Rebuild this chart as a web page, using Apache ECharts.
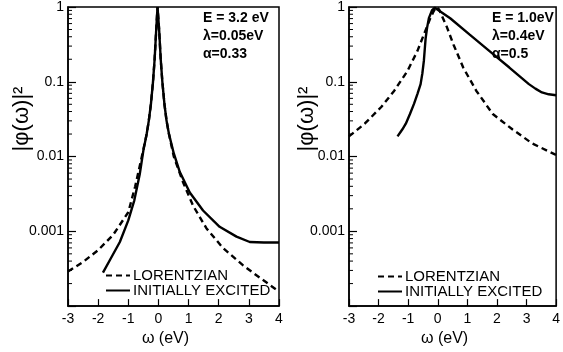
<!DOCTYPE html>
<html>
<head>
<meta charset="utf-8">
<script src="https://cdn.jsdelivr.net/npm/echarts@6/dist/echarts.min.js"></script>
<style>
html,body{margin:0;padding:0;background:#fff;}
#chart{width:563px;height:352px;}
</style>
</head>
<body>
<div id="chart"></div>
<script>
// ---- data ----
const xTicks = [-3, -2, -1, 0, 1, 2, 3, 4];
const yTickValues = [0.0001, 0.001, 0.01, 0.1, 1];
const yTickLabels = ['', '0.001', '0.01', '0.1', '1'];
const minorTickValues = [0.0002,0.0003,0.0004,0.0005,0.0006,0.0007,0.0008,0.0009,
  0.002,0.003,0.004,0.005,0.006,0.007,0.008,0.009,
  0.02,0.03,0.04,0.05,0.06,0.07,0.08,0.09,
  0.2,0.3,0.4,0.5,0.6,0.7,0.8,0.9];
const seriesNames = ['LORENTZIAN', 'INITIALLY EXCITED'];
const xName = 'ω (eV)';
const yName = '|φ(ω)|²';

// Left panel: E = 3.2 eV, λ = 0.05 eV, α = 0.33
const leftLabels = ['E = 3.2 eV', 'λ=0.05eV', 'α=0.33'];
const leftLorentzian = [
  [-3.0, 2.9e-4], [-2.5, 3.9e-4], [-2.0, 5.6e-4], [-1.5, 9.0e-4], [-1.0, 1.8e-3],
  [-0.77, 4.0e-3], [-0.55, 0.01], [-0.39, 0.02], [-0.32, 0.03], [-0.25, 0.05],
  [-0.18, 0.1], [-0.126, 0.2], [-0.073, 0.5], [-0.03, 1.0], [0.023, 0.5],
  [0.076, 0.2], [0.13, 0.1], [0.2, 0.05], [0.27, 0.03], [0.35, 0.02], [0.51, 0.01],
  [0.82, 4.5e-3], [1.15, 2.2e-3], [1.59, 1.1e-3], [2.14, 6.0e-4], [2.81, 3.5e-4],
  [3.36, 2.4e-4], [3.97, 1.6e-4]
];
const leftExcited = [
  [-1.84, 2.8e-4], [-1.6, 4.2e-4], [-1.28, 7.2e-4], [-1.0, 1.4e-3], [-0.8, 2.6e-3],
  [-0.62, 5.8e-3], [-0.5, 0.012], [-0.39, 0.02], [-0.32, 0.03], [-0.25, 0.05],
  [-0.18, 0.1], [-0.126, 0.2], [-0.073, 0.5], [-0.03, 1.0], [0.023, 0.5],
  [0.076, 0.2], [0.13, 0.1], [0.2, 0.05], [0.27, 0.03], [0.35, 0.02], [0.51, 0.011],
  [0.71, 6.2e-3], [1.04, 3.3e-3], [1.48, 1.9e-3], [2.03, 1.15e-3], [2.59, 8.5e-4],
  [3.03, 7.2e-4], [3.5, 7.1e-4], [4.0, 7.1e-4]
];

// Right panel: E = 1.0 eV, λ = 0.4 eV, α = 0.5
const rightLabels = ['E = 1.0eV', 'λ=0.4eV', 'α=0.5'];
const rightLorentzian = [
  [-3.0, 0.0186], [-2.47, 0.0275], [-1.91, 0.046], [-1.47, 0.076], [-1.03, 0.138],
  [-0.69, 0.257], [-0.47, 0.427], [-0.25, 0.71], [-0.15, 0.86], [-0.05, 1.0],
  [0.05, 0.92], [0.14, 0.76], [0.3, 0.55], [0.53, 0.316], [0.86, 0.155], [1.30, 0.076],
  [1.86, 0.037], [2.53, 0.023], [3.19, 0.015], [4.0, 0.0105]
];
const rightExcited = [
  [-1.36, 0.0186], [-1.2, 0.023], [-1.08, 0.0275], [-0.94, 0.037], [-0.80, 0.051],
  [-0.68, 0.07], [-0.58, 0.093], [-0.52, 0.13], [-0.47, 0.19], [-0.44, 0.27],
  [-0.41, 0.38], [-0.36, 0.53], [-0.30, 0.71], [-0.19, 0.91], [-0.1, 0.98], [-0.05, 1.0],
  [0.42, 0.708], [1.08, 0.427], [1.75, 0.257], [2.42, 0.155], [3.08, 0.093],
  [3.3, 0.081], [3.52, 0.072], [3.75, 0.068], [4.0, 0.066]
];

// ---- chart ----
const FONT = 'Liberation Sans';
const chart = echarts.init(document.getElementById('chart'), null, {renderer: 'canvas'});

function yFmt(v) {
  let best = 0, bd = Infinity;
  yTickValues.forEach((t, i) => {
    const d = Math.abs(Math.log10(v) - Math.log10(t));
    if (d < bd) { bd = d; best = i; }
  });
  return bd < 1e-6 ? yTickLabels[best] : '';
}

function xAxisDef(gi) {
  return {
    type: 'value', gridIndex: gi, min: xTicks[0], max: xTicks[xTicks.length - 1], interval: 1,
    name: xName, nameLocation: 'middle', nameGap: 24,
    nameTextStyle: {fontFamily: FONT, fontSize: 16, color: '#000', padding: [0, 16, 0, 0]},
    axisLine: {onZero: false, lineStyle: {color: '#000', width: 1.5}},
    axisTick: {inside: true, length: 7, lineStyle: {color: '#000', width: 1.2}},
    axisLabel: {fontFamily: FONT, fontSize: 14, color: '#000', margin: 6},
    splitLine: {show: false}
  };
}
function yAxisDef(gi) {
  return {
    type: 'log', logBase: 10, gridIndex: gi, min: yTickValues[0], max: yTickValues[yTickValues.length - 1],
    axisLine: {show: true, onZero: false, lineStyle: {color: '#000', width: 1.5}},
    axisTick: {inside: true, length: 8, lineStyle: {color: '#000', width: 1.2}},
    axisLabel: {fontFamily: FONT, fontSize: 14, color: '#000', margin: 4, formatter: yFmt},
    splitLine: {show: false},
    minorTick: {show: false}
  };
}

function lineSeries(name, data, gi, dashed) {
  return {
    name: name, type: 'line', xAxisIndex: gi, yAxisIndex: gi, data: data,
    symbol: 'none', showSymbol: false, smooth: false, animation: false,
    lineStyle: {color: '#000', width: 2.4, type: dashed ? [6, 4] : 'solid'},
    itemStyle: {color: '#000'}
  };
}
function minorTickSeries(gi) {
  return {
    type: 'custom', xAxisIndex: gi, yAxisIndex: gi, silent: true, animation: false,
    data: minorTickValues.map(v => [xTicks[0], v]),
    renderItem: function (params, api) {
      const p = api.coord([api.value(0), api.value(1)]);
      return {type: 'line', shape: {x1: p[0], y1: p[1], x2: p[0] + 4, y2: p[1]},
              style: {stroke: '#000', lineWidth: 1}};
    }
  };
}
function annot(x, y, lines) {
  return lines.map((t, i) => ({
    type: 'text', left: x, top: y + i * 18,
    style: {text: t, fontFamily: FONT, fontSize: 14, fontWeight: 'bold', fill: '#000'}
  }));
}
function yTitle(x, y) {
  return {
    type: 'text', x: x, y: y, rotation: Math.PI / 2,
    style: {text: yName, fontFamily: FONT, fontSize: 22, fill: '#000', align: 'center', verticalAlign: 'middle'}
  };
}
function legendDef(left, top) {
  return {
    orient: 'vertical', left: left, top: top, itemGap: 0, itemWidth: 24, itemHeight: 14,
    data: seriesNames, selectedMode: false,
    itemStyle: {color: 'rgba(0,0,0,0)', borderWidth: 0, opacity: 0},
    textStyle: {fontFamily: FONT, fontSize: 15, color: '#000', padding: [0, 0, 0, -2]}
  };
}

const option = {
  backgroundColor: '#fff',
  animation: false,
  grid: [
    {left: 68, right: 284, top: 5, bottom: 44, show: true, borderColor: '#000', borderWidth: 1.5},
    {left: 349, right: 4, top: 5, bottom: 44, show: true, borderColor: '#000', borderWidth: 1.5}
  ],
  xAxis: [xAxisDef(0), xAxisDef(1)],
  yAxis: [yAxisDef(0), yAxisDef(1)],
  legend: [legendDef(100, 263), legendDef(372, 264)],
  series: [
    lineSeries(seriesNames[0], leftLorentzian, 0, true),
    lineSeries(seriesNames[1], leftExcited, 0, false),
    lineSeries(seriesNames[0], rightLorentzian, 1, true),
    lineSeries(seriesNames[1], rightExcited, 1, false),
    minorTickSeries(0),
    minorTickSeries(1)
  ],
  graphic: annot(203, 11, leftLabels).concat(annot(492, 11, rightLabels))
    .concat([yTitle(22, 119), yTitle(307, 119)])
};
chart.setOption(option);
</script>
</body>
</html>
